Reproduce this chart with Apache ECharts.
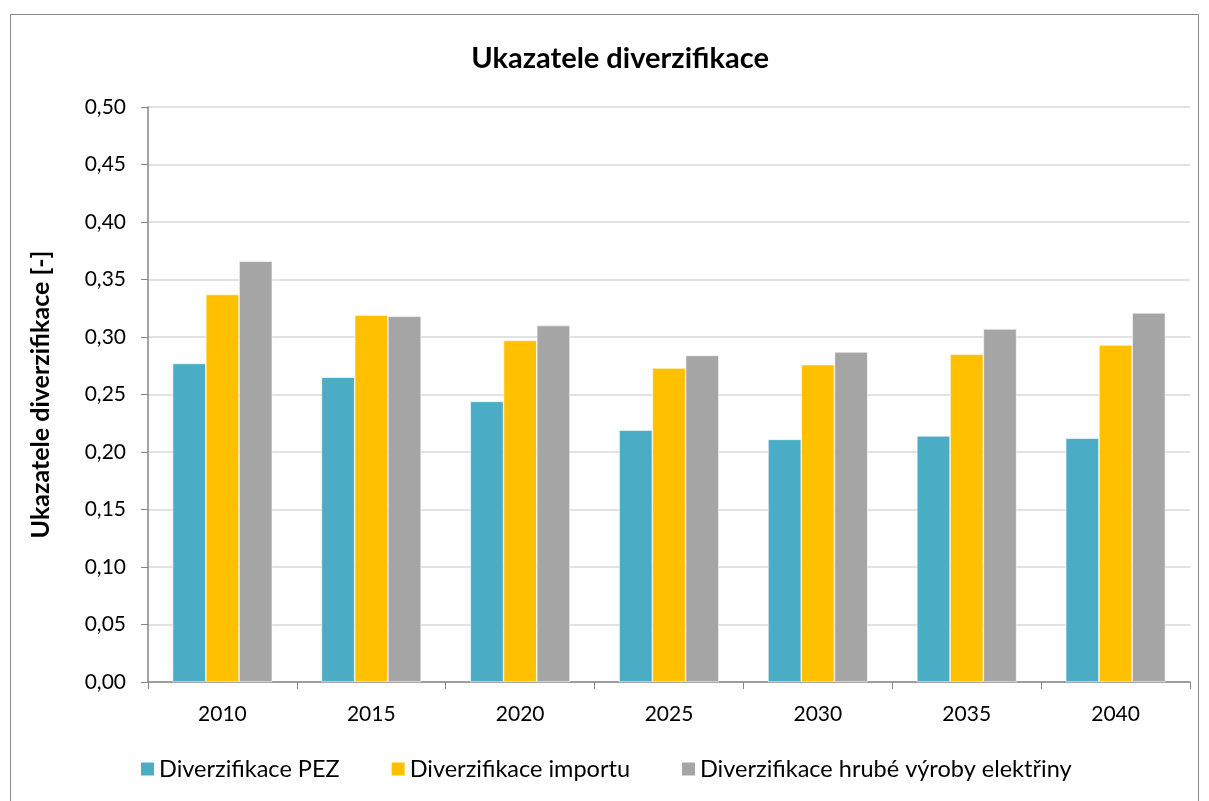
<!DOCTYPE html>
<html>
<head>
<meta charset="utf-8">
<script src="https://cdn.jsdelivr.net/npm/echarts@6/dist/echarts.min.js"></script>
<style>
  html, body { margin: 0; padding: 0; background: #fff; }
  #chart { width: 1209px; height: 801px; }
</style>
</head>
<body>
<div id="chart"></div>
<script>
// data
var years = ['2010', '2015', '2020', '2025', '2030', '2035', '2040'];
var pez = [0.277, 0.265, 0.244, 0.219, 0.211, 0.214, 0.212];
var importu = [0.337, 0.319, 0.297, 0.273, 0.276, 0.285, 0.293];
var vyroby = [0.366, 0.318, 0.310, 0.284, 0.287, 0.307, 0.321];
var names = ['Diverzifikace PEZ', 'Diverzifikace importu', 'Diverzifikace hrubé výroby elektřiny'];

var font = 'Lato, "Open Sans", sans-serif';
var myChart = echarts.init(document.getElementById('chart'));

function bar(name, data, color) {
  return {
    name: name,
    type: 'bar',
    data: data,
    barGap: '0%',
    barCategoryGap: '33%',
    itemStyle: { color: color, borderColor: '#fff', borderWidth: 0.6 }
  };
}

var option = {
  animation: false,
  backgroundColor: '#fff',
  graphic: [{
    type: 'rect',
    shape: { x: 10.5, y: 14.5, width: 1188, height: 800 },
    style: { fill: 'none', stroke: '#888', lineWidth: 1 }
  }],
  title: {
    text: 'Ukazatele diverzifikace',
    left: 615,
    textAlign: 'center',
    top: 39,
    textStyle: { fontFamily: font, fontSize: 29, fontWeight: 'bold', color: '#000' }
  },
  grid: { left: 148, right: 19, top: 107, bottom: 119 },
  legend: {
    left: 134,
    top: 752,
    itemWidth: 15,
    itemHeight: 15,
    itemGap: 50,
    icon: 'rect',
    textStyle: { fontFamily: font, fontSize: 23.5, color: '#000', padding: [0, 0, 0, -1] },
    data: names
  },
  xAxis: {
    type: 'category',
    data: years,
    axisLine: { lineStyle: { color: '#868686', width: 1.5 } },
    axisTick: { show: true, length: 7, lineStyle: { color: '#868686' } },
    axisLabel: { fontFamily: font, fontSize: 21, color: '#000', margin: 22 }
  },
  yAxis: {
    type: 'value',
    min: 0,
    max: 0.5,
    interval: 0.05,
    name: 'Ukazatele diverzifikace [-]',
    nameLocation: 'middle',
    nameGap: 95,
    nameTextStyle: { fontFamily: font, fontSize: 25, fontWeight: 'bold', color: '#000' },
    axisLine: { show: true, lineStyle: { color: '#868686', width: 1.5 } },
    axisTick: { show: true, length: 7, lineStyle: { color: '#868686' } },
    splitLine: { lineStyle: { color: '#d9d9d9', width: 1.5 } },
    axisLabel: {
      fontFamily: font, fontSize: 21, color: '#000', margin: 22,
      formatter: function (v) { return v.toFixed(2).replace('.', ','); }
    }
  },
  series: [
    bar(names[0], pez, '#4bacc6'),
    bar(names[1], importu, '#ffc000'),
    bar(names[2], vyroby, '#a5a5a5')
  ]
};
myChart.setOption(option);
</script>
</body>
</html>
